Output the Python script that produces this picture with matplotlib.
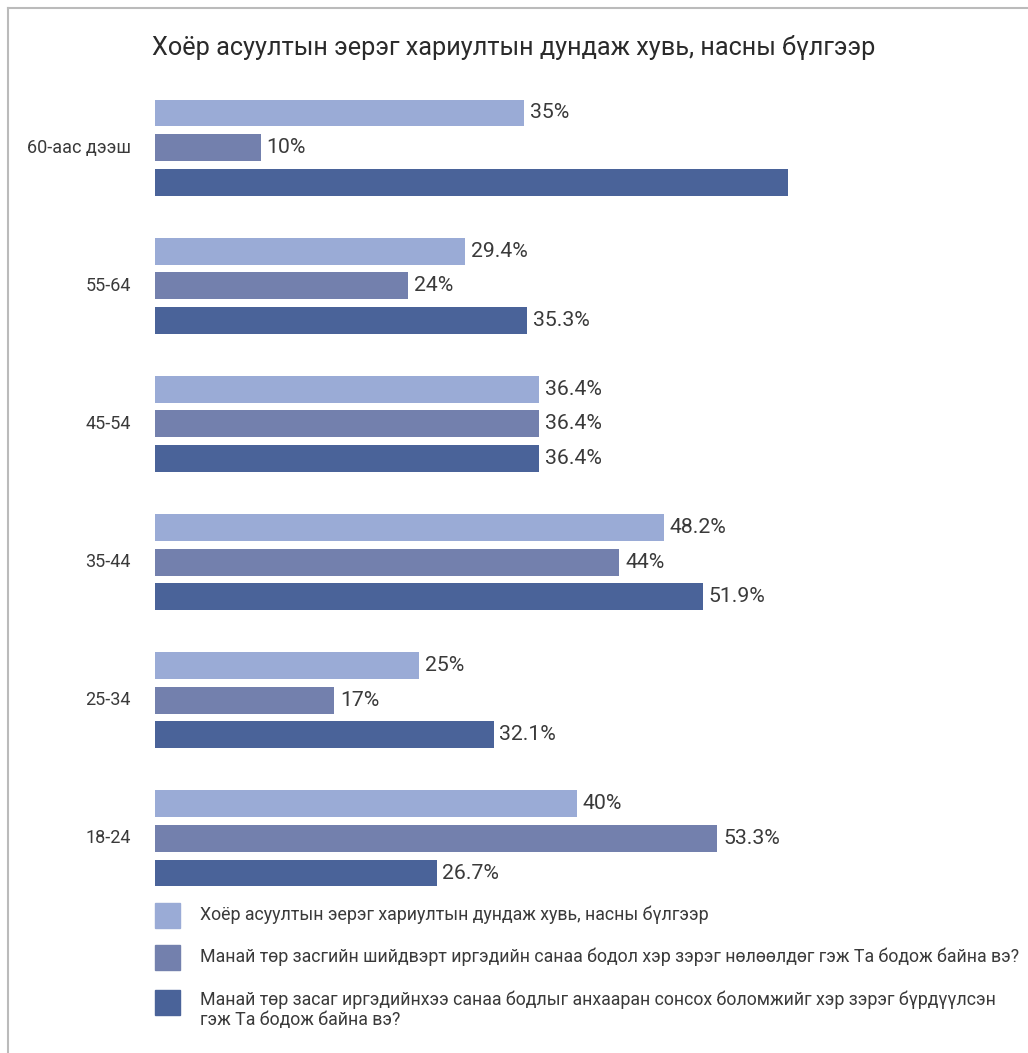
import matplotlib
matplotlib.use("Agg")
import matplotlib.pyplot as plt
from matplotlib.lines import Line2D
from matplotlib.patches import Rectangle

plt.rcParams['font.family'] = ['Roboto', 'DejaVu Sans']

# data
groups = ["60-аас дээш", "55-64", "45-54", "35-44", "25-34", "18-24"]
q_avg = [35, 29.4, 36.4, 48.2, 25, 40]
q_influence = [10, 24, 36.4, 44, 17, 53.3]
q_listen = [60, 35.3, 36.4, 51.9, 32.1, 26.7]
show_label_listen = [False, True, True, True, True, True]

series_names = [
    "Хоёр асуултын эерэг хариултын дундаж хувь, насны бүлгээр",
    "Манай төр засгийн шийдвэрт иргэдийн санаа бодол хэр зэрэг нөлөөлдөг гэж Та бодож байна вэ?",
    "Манай төр засаг иргэдийнхээ санаа бодлыг анхааран сонсох боломжийг хэр зэрэг бүрдүүлсэн\nгэж Та бодож байна вэ?",
]
colors = ["#9aabd6", "#7380ad", "#4a6399"]
txt = "#3a3a3a"

W, H = 1028, 1053
fig = plt.figure(figsize=(W / 100, H / 100), dpi=100)

# axes placed in pixels: x from 155 to 1028, rows mapped 113..873 px
ax_left = 155 / W
ax_bottom = 1 - 890.3 / H
ax_h = (890.3 - 95.7) / H
ax = fig.add_axes([ax_left, ax_bottom, 1 - ax_left, ax_h])
ax.set_xlim(0, (W - 155) / 10.55)
ax.set_ylim(22.5, -0.5)
ax.axis("off")

all_series = [q_avg, q_influence, q_listen]
for k, vals in enumerate(all_series):
    pos = [g * 4 + k for g in range(len(groups))]
    ax.barh(pos, vals, height=0.78, color=colors[k], edgecolor="none")
    for g, (p, v) in enumerate(zip(pos, vals)):
        if k == 2 and not show_label_listen[g]:
            continue
        ax.text(v + 0.55, p, f"{v:g}%", va="center", ha="left",
                fontsize=15.3, color=txt)

for g, name in enumerate(groups):
    ax.text(-2.3, g * 4 + 1, name, ha="right", va="center",
            fontsize=13, color=txt)

# title
fig.text(152 / W, 1 - 47 / H, "Хоёр асуултын эерэг хариултын дундаж хувь, насны бүлгээр",
         ha="left", va="center", fontsize=18.2, color="#2a2a2a")

# legend drawn manually
leg_y = [915, 957, 1002]
for k in range(3):
    fig.patches.append(Rectangle((155 / W, 1 - (leg_y[k] + 12.5) / H), 25 / W, 25 / H,
                                 transform=fig.transFigure, color=colors[k]))
text_y = [915, 957, 1010]
for k in range(3):
    fig.text(200 / W, 1 - text_y[k] / H, series_names[k], ha="left", va="center",
             fontsize=12.75, color=txt, linespacing=1.15)

# frame lines
fig.add_artist(Line2D([8 / W, 1], [1 - 8 / H, 1 - 8 / H], color="#bbbbbb", lw=1.5))
fig.add_artist(Line2D([8 / W, 8 / W], [0, 1 - 8 / H], color="#bbbbbb", lw=1.5))

fig.savefig("out.png", dpi=100)
